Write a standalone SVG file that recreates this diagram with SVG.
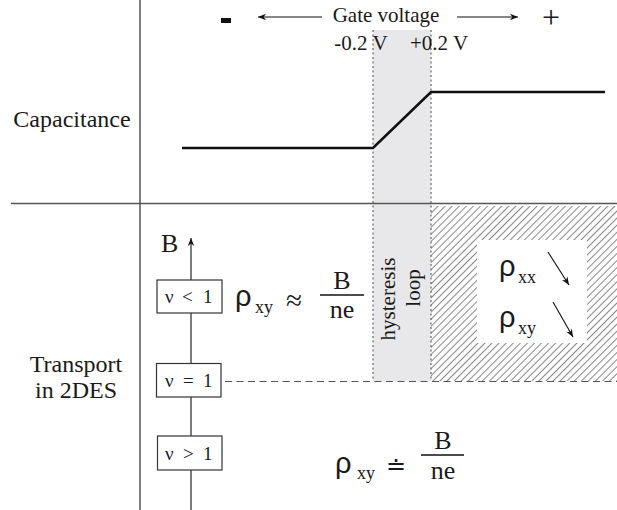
<svg xmlns="http://www.w3.org/2000/svg" width="617" height="510" viewBox="0 0 617 510">
<style>
text{font-family:"Liberation Serif","Times New Roman",serif;fill:#1a1a1a}
.rho{font-family:"Liberation Sans",Arial,sans-serif}
.ax{stroke:#555;stroke-width:1.5;fill:none}
.box{fill:#fff;stroke:#333;stroke-width:1.2}
.thin{stroke:#111;stroke-width:1.1;fill:none}
.bx{font-size:19px}
</style>
<defs>
<pattern id="hatch" patternUnits="userSpaceOnUse" width="5" height="5" patternTransform="rotate(45)">
<line x1="0" y1="-1" x2="0" y2="6" stroke="#111" stroke-width="1"/>
</pattern>
<marker id="ah" viewBox="0 0 10 10" refX="10" refY="5" markerWidth="10" markerHeight="8" markerUnits="userSpaceOnUse" orient="auto">
<path d="M0,1 L10,5 L0,9 L3,5 z" fill="#111"/>
</marker>
</defs>
<g id="background">
<rect x="373" y="30" width="58" height="351" fill="#e8e8ea"/>
<rect x="431" y="206" width="186" height="175" fill="url(#hatch)"/>
<rect x="477" y="240" width="110" height="103" fill="#fff"/>
</g>
<g id="axes">
<line class="ax" x1="140" y1="0" x2="140" y2="510"/>
<line class="ax" x1="11" y1="203.5" x2="617" y2="203.5"/>
</g>
<g id="connectors">
<line x1="373" y1="30" x2="373" y2="381" stroke="#666" stroke-width="1.2" stroke-dasharray="2,2.5"/>
<line x1="431" y1="30" x2="431" y2="381" stroke="#666" stroke-width="1.2" stroke-dasharray="2,2.5"/>
<line x1="225" y1="381.5" x2="617" y2="381.5" stroke="#555" stroke-width="1.2" stroke-dasharray="7,4.5"/>
<polyline points="182,148 373,148 431,92 605,92" fill="none" stroke="#111" stroke-width="2.6"/>
<line class="thin" x1="322" y1="17" x2="258" y2="17" marker-end="url(#ah)"/>
<line class="thin" x1="457" y1="17" x2="518" y2="17" marker-end="url(#ah)"/>
<line class="thin" x1="191" y1="510" x2="191" y2="238" marker-end="url(#ah)"/>
<line class="thin" x1="548" y1="252" x2="569" y2="285" marker-end="url(#ah)"/>
<line class="thin" x1="553" y1="302" x2="573" y2="337" marker-end="url(#ah)"/>
</g>
<g id="header">
<rect x="221" y="18" width="10" height="5" fill="#111"/>
<text x="386" y="22" font-size="21" text-anchor="middle">Gate voltage</text>
<text x="551" y="28" font-size="32" text-anchor="middle">+</text>
<text x="361" y="50" font-size="21" text-anchor="middle">-0.2 V</text>
<text x="439" y="50" font-size="21" text-anchor="middle">+0.2 V</text>
</g>
<g id="capacitance-label"><text x="72" y="127" font-size="24" text-anchor="middle">Capacitance</text></g>
<g id="transport-label">
<text x="76" y="372" font-size="24" text-anchor="middle">Transport</text>
<text x="76" y="398" font-size="24" text-anchor="middle">in 2DES</text>
</g>
<g id="B-label"><text x="161" y="252" font-size="26">B</text></g>
<g id="nu-lt-1">
<rect class="box" x="157" y="280" width="65" height="33"/>
<text class="bx" x="165" y="303">ν</text><text class="bx" x="182" y="303">&lt;</text><text class="bx" x="203" y="303">1</text>
</g>
<g id="nu-eq-1">
<rect class="box" x="156.5" y="363.5" width="64.5" height="33.5"/>
<text class="bx" x="165" y="387">ν</text><text class="bx" x="183" y="387">=</text><text class="bx" x="203" y="387">1</text>
</g>
<g id="nu-gt-1">
<rect class="box" x="157.5" y="436" width="64.5" height="34"/>
<text class="bx" x="165" y="460">ν</text><text class="bx" x="183" y="460">&gt;</text><text class="bx" x="203" y="460">1</text>
</g>
<g id="eq1">
<text class="rho" x="235" y="306" font-size="29">ρ</text>
<text x="255" y="313" font-size="18">xy</text>
<text x="286" y="310" font-size="29">≈</text>
<text x="342" y="289" font-size="26" text-anchor="middle">B</text>
<line x1="320" y1="295" x2="364" y2="295" stroke="#111" stroke-width="1.3"/>
<text x="342" y="318" font-size="26" text-anchor="middle">ne</text>
</g>
<g id="eq2">
<text class="rho" x="335" y="473" font-size="29">ρ</text>
<text x="357" y="479" font-size="18">xy</text>
<text x="386" y="474" font-size="24">≐</text>
<text x="443" y="449" font-size="26" text-anchor="middle">B</text>
<line x1="421" y1="455" x2="464" y2="455" stroke="#111" stroke-width="1.3"/>
<text x="443" y="479" font-size="26" text-anchor="middle">ne</text>
</g>
<g id="hysteresis">
<text transform="translate(395,299) rotate(-90)" font-size="21" text-anchor="middle">hysteresis</text>
<text transform="translate(420,288) rotate(-90)" font-size="21" text-anchor="middle">loop</text>
</g>
<g id="rho-labels">
<text class="rho" x="499" y="276" font-size="29">ρ</text>
<text x="518" y="283" font-size="18">xx</text>
<text class="rho" x="499" y="327" font-size="29">ρ</text>
<text x="518" y="334" font-size="18">xy</text>
</g>
</svg>
